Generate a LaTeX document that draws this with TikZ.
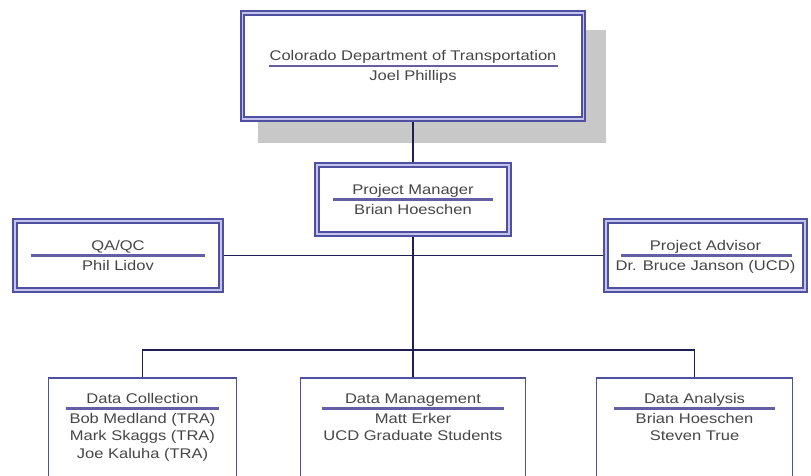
\documentclass[tikz,border=0pt]{standalone}
\usepackage{fontspec}
\setmainfont{Liberation Sans}[FakeStretch=1.18]
\usetikzlibrary{positioning,backgrounds}

\definecolor{linknavy}{RGB}{30,30,80}
\definecolor{boxblue}{RGB}{80,80,160}
\definecolor{boxlav}{RGB}{195,195,238}
\definecolor{rulepurple}{RGB}{100,95,165}
\definecolor{txtgray}{RGB}{70,70,70}
\definecolor{shadowgray}{RGB}{200,200,200}

\tikzset{
	orgbox/.style = {draw=boxblue, line width=2pt, double=boxlav, double distance=1.8pt, fill=white, inner sep=0pt},
	teambox/.style = {draw=boxblue, line width=1.6pt, fill=white, inner sep=0pt, minimum height=117},
	orgline/.style = {draw=linknavy, line width=1.6pt},
	seprule/.style = {draw=rulepurple, line width=2.2pt},
	titletext/.style = {text=txtgray, font=\fontsize{14}{17.5}\selectfont, inner sep=0pt, anchor=base},
	persontext/.style = {text=txtgray, font=\fontsize{14}{17.5}\selectfont, inner sep=0pt, align=center, anchor=north},
}

\begin{document}
\begin{tikzpicture}[x=1pt, y=1pt]
		\clip (0,0) rectangle (811,476);

		% boxes
		\node[orgbox, minimum width=341, minimum height=106] (cdot) at (413,410) {};
		\node[orgbox, minimum width=192, minimum height=69] (pm) at (413,276.5) {};
		\node[orgbox, minimum width=206, minimum height=69] (qa) at (118,220.5) {};
		\node[orgbox, minimum width=199, minimum height=69] (adv) at (705.5,220.5) {};
		\node[teambox, minimum width=188] (dcol) at (142.5,39.5) {};
		\node[teambox, minimum width=225] (dman) at (413,39.5) {};
		\node[teambox, minimum width=196] (dana) at (694.5,39.5) {};
		\coordinate (bus) at (413,126);

		\begin{scope}[on background layer]
			\fill[white] (0,0) rectangle (811,476);
			\fill[shadowgray] (258,333) rectangle (606,446);
			\draw[orgline] (cdot.south) -- (pm.north);
			\draw[orgline] (pm.south) -- (dman.north);
			\draw[orgline] (qa.east) -- (adv.west);
			\draw[orgline] (dcol.north) |- (bus) -| (dana.north);
		\end{scope}

		% texts
		\node[titletext] (cdottitle) at ([yshift=5]cdot.center) {Colorado Department of Transportation};
		\draw[seprule] ([xshift=27]cdot.west) -- ([xshift=-27]cdot.east);
		\node[persontext] (cdotname) at ([yshift=-4.5]cdot.center) {Joel Phillips};

		\node[titletext] (pmtitle) at ([yshift=5]pm.center) {Project Manager};
		\draw[seprule] ([xshift=17]pm.west) -- ([xshift=-17]pm.east);
		\node[persontext] (pmname) at ([yshift=-4.5]pm.center) {Brian Hoeschen};

		\node[titletext] (qatitle) at ([yshift=5]qa.center) {QA/QC};
		\draw[seprule] ([xshift=17]qa.west) -- ([xshift=-17]qa.east);
		\node[persontext] (qaname) at ([yshift=-4.5]qa.center) {Phil Lidov};

		\node[titletext] (advtitle) at ([yshift=5]adv.center) {Project Advisor};
		\draw[seprule] ([xshift=16]adv.west) -- ([xshift=-14]adv.east);
		\node[persontext] (advname) at ([yshift=-4.5]adv.center) {Dr. Bruce Janson (UCD)};

		\node[titletext] (dcoltitle) at ([yshift=33]dcol.center) {Data Collection};
		\draw[seprule] ([xshift=18, yshift=28]dcol.west) -- ([xshift=-18, yshift=28]dcol.east);
		\node[persontext] (dcolname) at ([yshift=23.5]dcol.center) {Bob Medland (TRA)\\Mark Skaggs (TRA)\\Joe Kaluha (TRA)};

		\node[titletext] (dmantitle) at ([yshift=33]dman.center) {Data Management};
		\draw[seprule] ([xshift=22, yshift=28]dman.west) -- ([xshift=-22, yshift=28]dman.east);
		\node[persontext] (dmanname) at ([yshift=23.5]dman.center) {Matt Erker\\UCD Graduate Students};

		\node[titletext] (danatitle) at ([yshift=33]dana.center) {Data Analysis};
		\draw[seprule] ([xshift=18, yshift=28]dana.west) -- ([xshift=-18, yshift=28]dana.east);
		\node[persontext] (dananame) at ([yshift=23.5]dana.center) {Brian Hoeschen\\Steven True};
	\end{tikzpicture}
\end{document}
